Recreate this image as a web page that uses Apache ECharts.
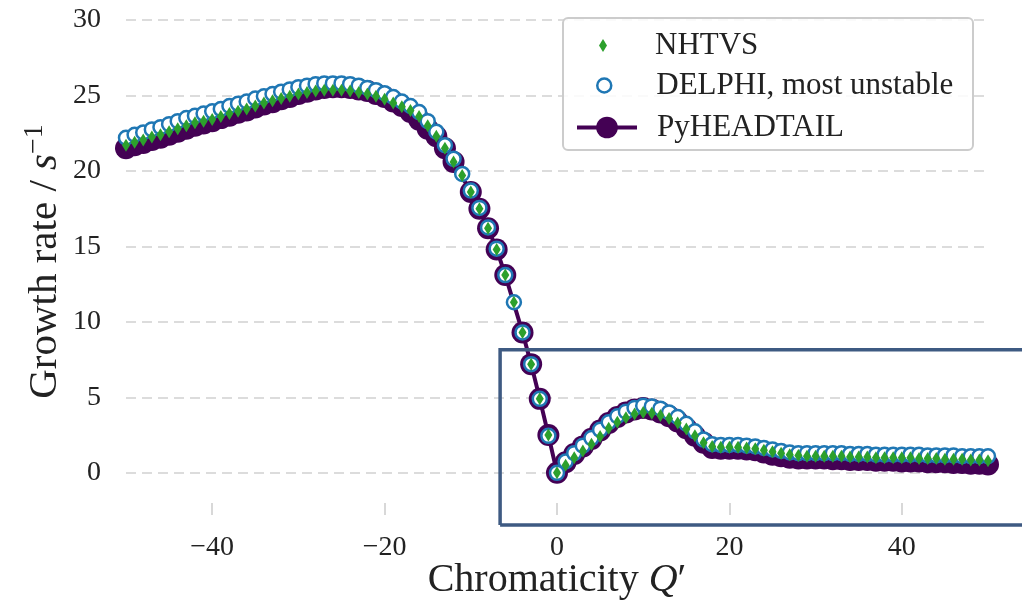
<!DOCTYPE html>
<html>
<head>
<meta charset="utf-8">
<script src="https://cdn.jsdelivr.net/npm/echarts@6/dist/echarts.min.js"></script>
<style>
html,body{margin:0;padding:0;background:#fff;}
#chart{width:1022px;height:603px;}
</style>
</head>
<body>
<div id="chart"></div>
<script>
// Chromaticity Q' values
const qPrime = [-50,-49,-48,-47,-46,-45,-44,-43,-42,-41,
  -40,-39,-38,-37,-36,-35,-34,-33,-32,-31,
  -30,-29,-28,-27,-26,-25,-24,-23,-22,-21,
  -20,-19,-18,-17,-16,-15,-14,-13,-12,-11,
  -10,-9,-8,-7,-6,-5,-4,-3,-2,-1,
  0,
  1,2,3,4,5,6,7,8,9,10,
  11,12,13,14,15,16,17,18,19,20,
  21,22,23,24,25,26,27,28,29,30,
  31,32,33,34,35,36,37,38,39,40,
  41,42,43,44,45,46,47,48,49,50];

const nhtvs = [21.7,21.9,22.05,22.25,22.4,22.6,22.8,23.0,23.2,23.3,
  23.4,23.6,23.8,23.95,24.1,24.3,24.5,24.65,24.8,24.95,
  25.1,25.2,25.3,25.35,25.35,25.35,25.3,25.2,25.1,24.95,
  24.75,24.5,24.25,24.0,23.6,23.0,22.3,21.5,20.6,19.7,
  18.6,17.5,16.2,14.8,13.1,11.3,9.3,7.2,4.9,2.5,
  0.0,
  0.5,1.0,1.45,1.9,2.4,2.95,3.35,3.65,3.9,4.0,
  3.95,3.8,3.6,3.3,2.9,2.45,2.0,1.75,1.7,1.7,
  1.7,1.65,1.6,1.5,1.4,1.3,1.2,1.15,1.1,1.1,
  1.1,1.1,1.1,1.05,1.05,1.05,1.0,1.0,1.0,1.0,
  1.0,0.95,0.95,0.95,0.9,0.9,0.9,0.85,0.85,0.8];

const delphi = [22.2,22.4,22.55,22.75,22.9,23.1,23.3,23.5,23.65,23.8,
  23.95,24.1,24.3,24.45,24.6,24.8,24.95,25.1,25.25,25.4,
  25.55,25.65,25.75,25.8,25.8,25.8,25.75,25.65,25.5,25.35,
  25.15,24.9,24.6,24.3,23.9,23.3,22.6,21.7,20.8,19.8,
  18.7,17.55,16.25,14.85,13.1,11.3,9.3,7.2,4.9,2.45,
  0.0,
  0.75,1.3,1.8,2.3,2.85,3.35,3.75,4.05,4.3,4.45,
  4.4,4.25,4.0,3.7,3.25,2.75,2.2,1.9,1.85,1.85,
  1.85,1.8,1.75,1.65,1.55,1.45,1.35,1.3,1.3,1.3,
  1.3,1.3,1.3,1.25,1.25,1.25,1.2,1.2,1.2,1.2,
  1.2,1.2,1.15,1.15,1.15,1.15,1.1,1.1,1.1,1.1];

const pyheadtail = [21.5,21.7,21.85,22.05,22.2,22.4,22.6,22.8,23.0,23.15,
  23.3,23.5,23.65,23.85,24.0,24.2,24.4,24.55,24.75,24.9,
  25.1,25.25,25.4,25.5,25.55,25.55,25.5,25.4,25.3,25.1,
  24.9,24.6,24.3,23.9,23.4,22.8,22.3,21.5,20.6,null,
  18.6,17.5,16.2,14.8,13.1,null,9.3,7.2,4.9,2.5,
  0.0,
  0.7,1.25,1.75,2.25,2.8,3.3,3.7,4.0,4.2,4.3,
  4.2,4.0,3.75,3.4,2.95,2.45,2.0,1.65,1.6,1.6,
  1.6,1.55,1.5,1.35,1.2,1.1,1.0,0.95,0.95,0.95,
  0.95,0.9,0.9,0.85,0.85,0.85,0.8,0.8,0.8,0.75,
  0.75,0.75,0.7,0.7,0.7,0.65,0.65,0.6,0.6,0.55];

const xTicks = [-40,-20,0,20,40];
const yTicks = [0,5,10,15,20,25,30];
// zoom-in indicator rectangle (data coordinates); extends past the right edge
const insetBox = [[-6.6,-3.45],[-6.6,8.15],[60,8.15],[60,-3.45],[-6.6,-3.45]];

const FONT = 'Liberation Serif';
const TXT = '#222222';
const pair = arr => qPrime.map((q,i)=>[q, arr[i]]);
const fmt = v => v < 0 ? '\u2212' + Math.abs(v) : String(v);

const chart = echarts.init(document.getElementById('chart'), null, {renderer:'canvas'});
chart.setOption({
  animation:false,
  backgroundColor:'#ffffff',
  grid:{left:126, right:34, top:20, bottom:100, containLabel:false, outerBoundsMode:'none'},
  xAxis:{
    type:'value', min:-50, max:50,
    axisLine:{show:false, onZero:false},
    axisTick:{show:true, customValues:xTicks, length:12, lineStyle:{color:'#cccccc', width:1.5}},
    axisLabel:{customValues:xTicks, formatter:fmt, fontFamily:FONT, fontSize:28, color:TXT, margin:31},
    splitLine:{show:false},
    name:'{a|Chromaticity }{i|Q}{a|\u2032}',
    nameLocation:'middle', nameGap:57, nameMoveOverlap:false,
    nameTextStyle:{fontFamily:FONT, fontSize:40, color:TXT,
      rich:{a:{fontFamily:FONT, fontSize:40, color:TXT},
            i:{fontFamily:FONT, fontSize:40, color:TXT, fontStyle:'italic'}}}
  },
  yAxis:{
    type:'value', min:-2, max:30,
    axisLine:{show:false},
    axisTick:{show:false, customValues:yTicks},
    axisLabel:{customValues:yTicks, formatter:fmt, fontFamily:FONT, fontSize:28, color:TXT, margin:25},
    splitLine:{show:true, lineStyle:{color:'#dcdcdc', width:2, type:[10,6]}},
    name:'{a|Growth rate / }{i|s}{sup|\u22121}',
    nameLocation:'middle', nameGap:57, nameRotate:90, nameMoveOverlap:false,
    nameTextStyle:{fontFamily:FONT, fontSize:41, color:TXT,
      rich:{a:{fontFamily:FONT, fontSize:41, color:TXT, lineHeight:48},
            i:{fontFamily:FONT, fontSize:41, color:TXT, fontStyle:'italic', lineHeight:48},
            sup:{fontFamily:FONT, fontSize:28, color:TXT, lineHeight:28, verticalAlign:'top'}}}
  },
  graphic:[{
    id:'legendFrame', type:'rect', z:10, silent:true,
    shape:{x:563, y:18, width:410, height:132, r:5},
    style:{fill:'rgba(255,255,255,0.85)', stroke:'#cccccc', lineWidth:2}
  }],
  legend:[
    {data:[{name:'NHTVS', icon:'diamond'}], selectedMode:false, orient:'vertical',
     left:599, top:30, padding:0, itemWidth:8, itemHeight:13, z:20,
     itemStyle:{color:'#2ca02c'},
     textStyle:{fontFamily:FONT, fontSize:31, color:TXT, lineHeight:30, padding:[0,0,0,43]}},
    {data:[{name:'DELPHI, most unstable', icon:'circle'}], selectedMode:false, orient:'vertical',
     left:596, top:70, padding:0, itemWidth:14, itemHeight:14, z:20,
     itemStyle:{color:'#ffffff', borderColor:'#1f77b4', borderWidth:2.5},
     textStyle:{fontFamily:FONT, fontSize:31, color:TXT, lineHeight:30, padding:[0,0,0,40]}},
    {data:[{name:'PyHEADTAIL'}], selectedMode:false, orient:'vertical',
     left:575, top:112, padding:0, itemWidth:60, itemHeight:27, z:20,
     itemStyle:{color:'#440154'}, lineStyle:{color:'#440154', width:4},
     textStyle:{fontFamily:FONT, fontSize:31, color:TXT, lineHeight:30, padding:[0,0,0,15]}}
  ],
  series:[
    {name:'PyHEADTAIL', type:'line', data:pair(pyheadtail), z:2,
     symbol:'circle', symbolSize:22, showAllSymbol:true, connectNulls:true,
     lineStyle:{color:'#440154', width:4}, itemStyle:{color:'#440154'}},
    {name:'DELPHI, most unstable', type:'scatter', data:pair(delphi), z:3,
     symbol:'circle', symbolSize:14,
     itemStyle:{color:'#ffffff', borderColor:'#1f77b4', borderWidth:2.5, opacity:1}},
    {name:'NHTVS', type:'scatter', data:pair(nhtvs), z:4,
     symbol:'diamond', symbolSize:[8,13], itemStyle:{color:'#2ca02c', opacity:1}}
  ]
});

// inset indicator: converted from data coordinates through the grid's scales
const boxPts = insetBox.map(p => chart.convertToPixel({gridIndex:0}, p));
chart.setOption({
  graphic:[{
    id:'insetBox', type:'polyline', z:30, silent:true,
    shape:{points:boxPts},
    style:{fill:null, stroke:'#3e5a82', lineWidth:3.5, lineJoin:'miter'}
  }]
});
</script>
</body>
</html>
